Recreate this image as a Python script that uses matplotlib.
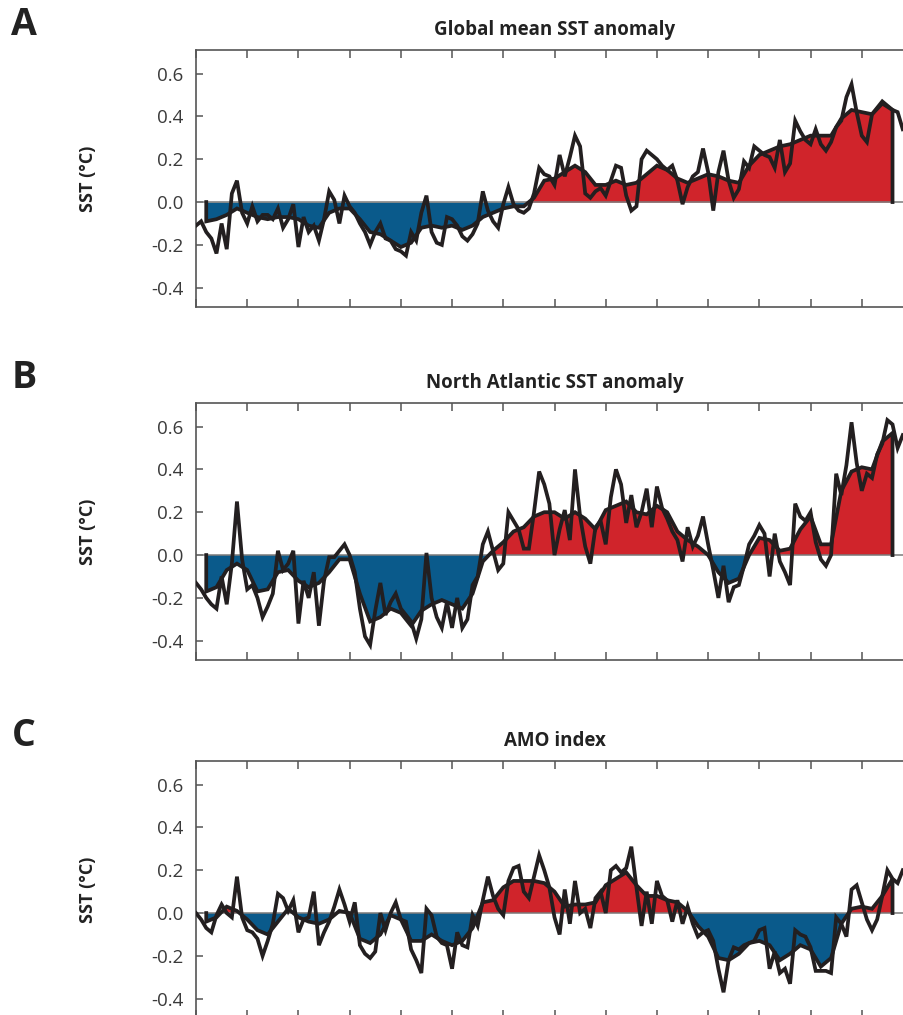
import numpy as np
import matplotlib
matplotlib.use("Agg")
import matplotlib.pyplot as plt

plt.rcParams['font.family'] = ['Open Sans', 'DejaVu Sans']

# ---------------- data ----------------
start_year = 1870
raw_years = np.arange(1870, 2009)          # annual values
smooth_years = np.arange(1872, 2007, 2)    # smoothed curve sampled every 2 years

global_raw = [
    -0.11, -0.09, -0.14, -0.17, -0.24, -0.10, -0.22, 0.04, 0.10, -0.05,
    -0.10, -0.02, -0.09, -0.06, -0.06, -0.08, -0.03, -0.12, -0.08, -0.01,
    -0.21, -0.07, -0.14, -0.11, -0.18, -0.08, 0.05, 0.01, -0.10, 0.03,
    -0.02, -0.05, -0.10, -0.14, -0.20, -0.14, -0.10, -0.17, -0.18, -0.22,
    -0.23, -0.25, -0.14, -0.18, -0.05, 0.03, -0.14, -0.19, -0.20, -0.07,
    -0.08, -0.11, -0.16, -0.18, -0.15, -0.10, 0.05, -0.04, -0.09, -0.12,
    -0.01, 0.07, -0.01, -0.04, -0.05, -0.03, 0.04, 0.16, 0.13, 0.12,
    0.08, 0.22, 0.12, 0.21, 0.31, 0.26, 0.04, 0.02, 0.05, 0.065,
    0.03, 0.10, 0.17, 0.16, 0.03, -0.04, -0.02, 0.20, 0.24, 0.22,
    0.20, 0.17, 0.15, 0.17, 0.10, -0.01, 0.07, 0.12, 0.14, 0.25,
    0.14, -0.04, 0.14, 0.24, 0.10, 0.02, 0.06, 0.19, 0.16, 0.26,
    0.24, 0.22, 0.21, 0.16, 0.29, 0.14, 0.18, 0.38, 0.33, 0.29,
    0.27, 0.34, 0.27, 0.24, 0.28, 0.35, 0.38, 0.49, 0.55, 0.42,
    0.31, 0.28, 0.41, 0.44, 0.47, 0.45, 0.43, 0.42, 0.34,
]
global_smooth = [
    -0.09, -0.08, -0.06, -0.03, -0.05, -0.07, -0.08, -0.07, -0.07, -0.08,
    -0.11, -0.12, -0.05, -0.03, -0.03, -0.08, -0.14, -0.15, -0.18, -0.21,
    -0.19, -0.12, -0.11, -0.12, -0.11, -0.13, -0.11, -0.07, -0.05, -0.03,
    -0.02, -0.02, 0.02, 0.10, 0.11, 0.14, 0.17, 0.14, 0.08, 0.08,
    0.10, 0.08, 0.09, 0.13, 0.17, 0.15, 0.11, 0.09, 0.11, 0.13,
    0.12, 0.10, 0.09, 0.17, 0.22, 0.24, 0.26, 0.27, 0.29, 0.31,
    0.31, 0.31, 0.39, 0.43, 0.42, 0.41, 0.46, 0.43,
]

natl_raw = [
    -0.13, -0.16, -0.20, -0.23, -0.25, -0.10, -0.23, -0.04, 0.25, -0.02,
    -0.16, -0.14, -0.20, -0.29, -0.24, -0.18, 0.02, -0.07, -0.04, 0.02,
    -0.32, -0.12, -0.20, -0.08, -0.33, -0.12, -0.01, -0.01, 0.02, 0.05,
    0.00, -0.08, -0.25, -0.38, -0.42, -0.26, -0.13, -0.28, -0.22, -0.18,
    -0.25, -0.28, -0.31, -0.39, -0.30, 0.01, -0.20, -0.29, -0.34, -0.22,
    -0.34, -0.20, -0.34, -0.30, -0.14, -0.10, 0.05, 0.11, 0.02, -0.07,
    -0.04, 0.20, 0.16, 0.12, 0.03, 0.03, 0.20, 0.39, 0.33, 0.24,
    0.00, 0.12, 0.21, 0.07, 0.40, 0.18, 0.04, -0.04, 0.13, 0.16,
    0.05, 0.27, 0.40, 0.33, 0.15, 0.28, 0.13, 0.20, 0.31, 0.13,
    0.32, 0.22, 0.17, 0.11, 0.07, -0.03, 0.13, 0.04, 0.09, 0.18,
    0.05, -0.07, -0.20, -0.05, -0.22, -0.15, -0.14, -0.05, 0.05, 0.09,
    0.14, 0.10, -0.10, 0.10, -0.03, -0.08, -0.14, 0.24, 0.18, 0.16,
    0.20, 0.06, -0.02, -0.05, 0.00, 0.38, 0.28, 0.42, 0.62, 0.43,
    0.30, 0.38, 0.36, 0.47, 0.52, 0.63, 0.61, 0.50, 0.56,
]
natl_smooth = [
    -0.17, -0.15, -0.07, -0.04, -0.07, -0.17, -0.16, -0.08, -0.07, -0.12,
    -0.15, -0.13, -0.08, -0.02, -0.02, -0.18, -0.31, -0.29, -0.25, -0.27,
    -0.33, -0.26, -0.23, -0.21, -0.23, -0.25, -0.18, -0.03, 0.02, 0.06,
    0.11, 0.13, 0.18, 0.20, 0.20, 0.17, 0.20, 0.17, 0.12, 0.21,
    0.23, 0.25, 0.20, 0.19, 0.23, 0.20, 0.11, 0.07, 0.04, 0.00,
    -0.08, -0.13, -0.11, 0.00, 0.08, 0.07, 0.02, 0.03, 0.12, 0.18,
    0.05, 0.05, 0.30, 0.39, 0.41, 0.40, 0.53, 0.57,
]

amo_raw = [
    0.00, -0.03, -0.07, -0.09, -0.01, 0.04, 0.00, -0.02, 0.17, -0.02,
    -0.08, -0.09, -0.12, -0.20, -0.13, -0.05, 0.09, 0.07, 0.01, 0.06,
    -0.09, -0.03, -0.02, 0.10, -0.15, -0.09, -0.04, 0.03, 0.11, 0.04,
    -0.04, 0.05, -0.15, -0.19, -0.21, -0.18, 0.00, -0.08, 0.00, 0.05,
    -0.03, -0.04, -0.17, -0.22, -0.28, 0.02, -0.01, -0.11, -0.14, -0.15,
    -0.26, -0.09, -0.15, -0.16, -0.01, -0.06, 0.06, 0.17, 0.08, 0.02,
    -0.01, 0.15, 0.21, 0.22, 0.10, 0.07, 0.17, 0.27, 0.20, 0.12,
    -0.02, -0.10, 0.11, -0.05, 0.15, 0.00, 0.02, -0.07, 0.07, 0.10,
    0.00, 0.20, 0.22, 0.19, 0.21, 0.31, 0.12, -0.06, 0.10, -0.05,
    0.15, 0.08, 0.06, -0.04, 0.06, -0.05, 0.03, -0.05, -0.11, -0.09,
    -0.08, -0.13, -0.26, -0.37, -0.22, -0.16, -0.17, -0.15, -0.14, -0.13,
    -0.08, -0.07, -0.26, -0.18, -0.28, -0.26, -0.33, -0.08, -0.10, -0.11,
    -0.16, -0.27, -0.27, -0.27, -0.28, -0.02, -0.05, -0.11, 0.11, 0.13,
    0.05, -0.03, -0.08, -0.03, 0.08, 0.20, 0.16, 0.14, 0.20,
]
amo_smooth = [
    -0.04, -0.02, 0.03, 0.01, -0.03, -0.08, -0.10, -0.04, 0.02, -0.02,
    -0.04, -0.05, -0.03, 0.01, 0.00, -0.12, -0.14, -0.10, -0.01, -0.03,
    -0.13, -0.13, -0.10, -0.13, -0.15, -0.13, -0.07, 0.05, 0.06, 0.12,
    0.15, 0.15, 0.15, 0.14, 0.10, 0.03, 0.04, 0.04, 0.05, 0.13,
    0.16, 0.19, 0.13, 0.08, 0.08, 0.06, 0.05, 0.01, -0.06, -0.11,
    -0.21, -0.22, -0.19, -0.14, -0.13, -0.15, -0.22, -0.19, -0.15, -0.17,
    -0.25, -0.21, -0.05, 0.02, 0.03, 0.02, 0.08, 0.16,
]

panels = [
    ("A", "Global mean SST anomaly", global_raw, global_smooth),
    ("B", "North Atlantic SST anomaly", natl_raw, natl_smooth),
    ("C", "AMO index", amo_raw, amo_smooth),
]
yticks = [-0.4, -0.2, 0.0, 0.2, 0.4, 0.6]
ytick_labels = ["-0.4", "-0.2", "0.0", "0.2", "0.4", "0.6"]
xticks = np.arange(1870, 2011, 10)

# ---------------- style ----------------
W, H = 904, 1015
BLUE = "#0a5a8b"
RED = "#d0242b"
LINE = "#231f20"
SPINE = "#555555"
TXT = "#3a3a3a"

fig = plt.figure(figsize=(W / 100, H / 100), dpi=100)

ax_left, ax_right = 196, 913
ax_tops = [50, 403, 761]
ax_h = 257

for (letter, title, raw, smooth), top in zip(panels, ax_tops):
    bottom_px = top + ax_h
    ax = fig.add_axes([ax_left / W, 1 - bottom_px / H,
                       (ax_right - ax_left) / W, ax_h / H])
    raw = np.asarray(raw)
    sm = np.asarray(smooth)
    xs = smooth_years
    ax.fill_between(xs, sm, 0, where=sm >= 0, interpolate=True,
                    color=RED, lw=0, zorder=1)
    ax.fill_between(xs, sm, 0, where=sm <= 0, interpolate=True,
                    color=BLUE, lw=0, zorder=1)
    ax.axhline(0, color="#7a7a7a", lw=1.1, zorder=2)
    ax.plot(raw_years, raw, color=LINE, lw=2.7, zorder=3,
            solid_joinstyle="miter")
    ax.plot(np.r_[xs[0], xs, xs[-1]], np.r_[0, sm, 0], color=LINE, lw=2.7,
            zorder=4, solid_joinstyle="miter")

    ax.set_xlim(1870, 2010)
    ax.set_ylim(-0.49, 0.71)
    ax.set_yticks(yticks)
    ax.set_yticklabels(ytick_labels)
    ax.set_xticks(xticks)
    ax.set_xticklabels([])
    ax.tick_params(axis="x", direction="in", length=6, width=1.1,
                   color=SPINE, top=True, bottom=True)
    ax.tick_params(axis="y", direction="in", length=5, width=1.1,
                   color=SPINE, labelsize=13.5, labelcolor=TXT, pad=9,
                   right=False)
    for s in ax.spines.values():
        s.set_color(SPINE)
        s.set_linewidth(1.2)

    fig.text(ax_left / W + (ax_right - ax_left) / W / 2, 1 - (top - 20) / H,
             title, ha="center", va="center", fontsize=13.5,
             fontweight="bold", color="#222222")
    fig.text(88 / W, 1 - (top + ax_h / 2) / H, "SST (°C)", rotation=90,
             ha="center", va="center", fontsize=13, fontweight="bold",
             color="#222222")
    fig.text(24 / W, 1 - (top - 25) / H, letter, ha="center", va="center",
             fontsize=27, fontweight="bold", color="#222222")

fig.savefig("out.png", dpi=100)
